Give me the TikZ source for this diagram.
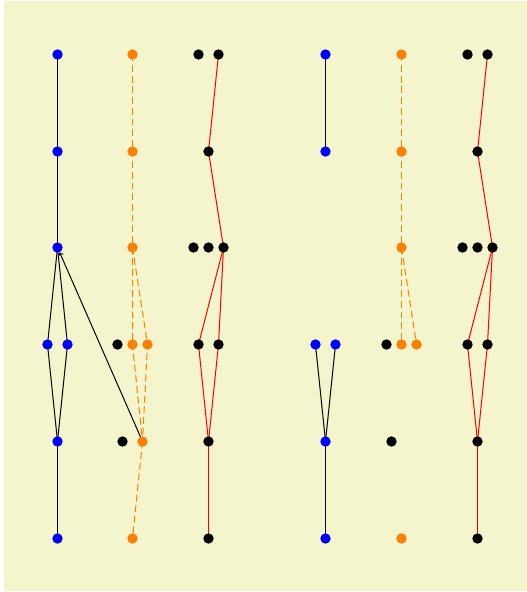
\documentclass[tikz,border=0pt]{standalone}
\definecolor{paper}{RGB}{244,244,205}
\pgfdeclarelayer{bg}
\pgfdeclarelayer{edges}
\pgfsetlayers{bg,edges,main}
\begin{document}
\begin{tikzpicture}[x=0.75pt,y=-0.75pt,
  dot/.style={circle,inner sep=0pt,minimum size=7.8pt},
  bdot/.style={dot,fill=blue},
  odot/.style={dot,fill=orange},
  kdot/.style={dot,fill=black},
  bline/.style={black,line width=0.75pt},
  oline/.style={orange,line width=0.75pt,dash pattern=on 5.2pt off 2.8pt},
  rline/.style={red,line width=0.75pt}]
\useasboundingbox (0,0) rectangle (527,592);
\begin{pgfonlayer}{bg}
  \fill[paper] (4,1) rectangle (527,591);
\end{pgfonlayer}

\begin{scope}[shift={(0.5,0.5)}]
% ---------- left group ----------
% blue column
\node[bdot] (lb0) at (57,54) {};
\node[bdot] (lb1) at (57,151) {};
\node[bdot] (lb2) at (57,247) {};
\node[bdot] (lb3a) at (47,344) {};
\node[bdot] (lb3b) at (67,344) {};
\node[bdot] (lb4) at (57,441) {};
\node[bdot] (lb5) at (57,538) {};
% orange column
\node[odot] (lo0) at (132,54) {};
\node[odot] (lo1) at (132,151) {};
\node[odot] (lo2) at (132,247) {};
\node[kdot] (lo3k) at (117,344) {};
\node[odot] (lo3a) at (132,344) {};
\node[odot] (lo3b) at (147,344) {};
\node[kdot] (lo4k) at (122,441) {};
\node[odot] (lo4) at (142,441) {};
\node[odot] (lo5) at (132,538) {};
% black column
\node[kdot] (lk0a) at (198,54) {};
\node[kdot] (lk0b) at (218,54) {};
\node[kdot] (lk1) at (208,151) {};
\node[kdot] (lk2a) at (193,247) {};
\node[kdot] (lk2b) at (208,247) {};
\node[kdot] (lk2c) at (223,247) {};
\node[kdot] (lk3a) at (198,344) {};
\node[kdot] (lk3b) at (218,344) {};
\node[kdot] (lk4) at (208,441) {};
\node[kdot] (lk5) at (208,538) {};

% ---------- right group ----------
% blue column
\node[bdot] (rb0) at (325,54) {};
\node[bdot] (rb1) at (325,151) {};
\node[bdot] (rb3a) at (315,344) {};
\node[bdot] (rb3b) at (335,344) {};
\node[bdot] (rb4) at (325,441) {};
\node[bdot] (rb5) at (325,538) {};
% orange column
\node[odot] (ro0) at (401,54) {};
\node[odot] (ro1) at (401,151) {};
\node[odot] (ro2) at (401,247) {};
\node[kdot] (ro3k) at (386,344) {};
\node[odot] (ro3a) at (401,344) {};
\node[odot] (ro3b) at (416,344) {};
\node[kdot] (ro4k) at (391,441) {};
\node[odot] (ro5) at (401,538) {};
% black column
\node[kdot] (rk0a) at (467,54) {};
\node[kdot] (rk0b) at (487,54) {};
\node[kdot] (rk1) at (477,151) {};
\node[kdot] (rk2a) at (462,247) {};
\node[kdot] (rk2b) at (477,247) {};
\node[kdot] (rk2c) at (492,247) {};
\node[kdot] (rk3a) at (467,344) {};
\node[kdot] (rk3b) at (487,344) {};
\node[kdot] (rk4) at (477,441) {};
\node[kdot] (rk5) at (477,538) {};

\begin{pgfonlayer}{edges}
  % left blue tree
  \draw[bline] (lb0.center) -- (lb1.center) -- (lb2.center);
  \draw[bline] (lb2.center) -- (lb3a.center) -- (lb4.center);
  \draw[bline] (lb2.center) -- (lb3b.center) -- (lb4.center);
  \draw[bline] (lb4.center) -- (lb5.center);
  \draw[bline,->] (lo4.center) -- (lb2);
  % left orange tree
  \draw[oline] (lo0.center) -- (lo1.center) -- (lo2.center);
  \draw[oline] (lo2.center) -- (lo3a.center) -- (lo4.center);
  \draw[oline] (lo2.center) -- (lo3b.center) -- (lo4.center);
  \draw[oline] (lo4.center) -- (lo5.center);
  % left red tree
  \draw[rline] (lk0b.center) -- (lk1.center) -- (lk2c.center);
  \draw[rline] (lk2c.center) -- (lk3a.center) -- (lk4.center);
  \draw[rline] (lk2c.center) -- (lk3b.center) -- (lk4.center);
  \draw[rline] (lk4.center) -- (lk5.center);
  % right blue tree
  \draw[bline] (rb0.center) -- (rb1.center);
  \draw[bline] (rb3a.center) -- (rb4.center);
  \draw[bline] (rb3b.center) -- (rb4.center);
  \draw[bline] (rb4.center) -- (rb5.center);
  % right orange tree
  \draw[oline] (ro0.center) -- (ro1.center) -- (ro2.center);
  \draw[oline] (ro2.center) -- (ro3a.center);
  \draw[oline] (ro2.center) -- (ro3b.center);
  % right red tree
  \draw[rline] (rk0b.center) -- (rk1.center) -- (rk2c.center);
  \draw[rline] (rk2c.center) -- (rk3a.center) -- (rk4.center);
  \draw[rline] (rk2c.center) -- (rk3b.center) -- (rk4.center);
  \draw[rline] (rk4.center) -- (rk5.center);
\end{pgfonlayer}
\end{scope}
\end{tikzpicture}
\end{document}
